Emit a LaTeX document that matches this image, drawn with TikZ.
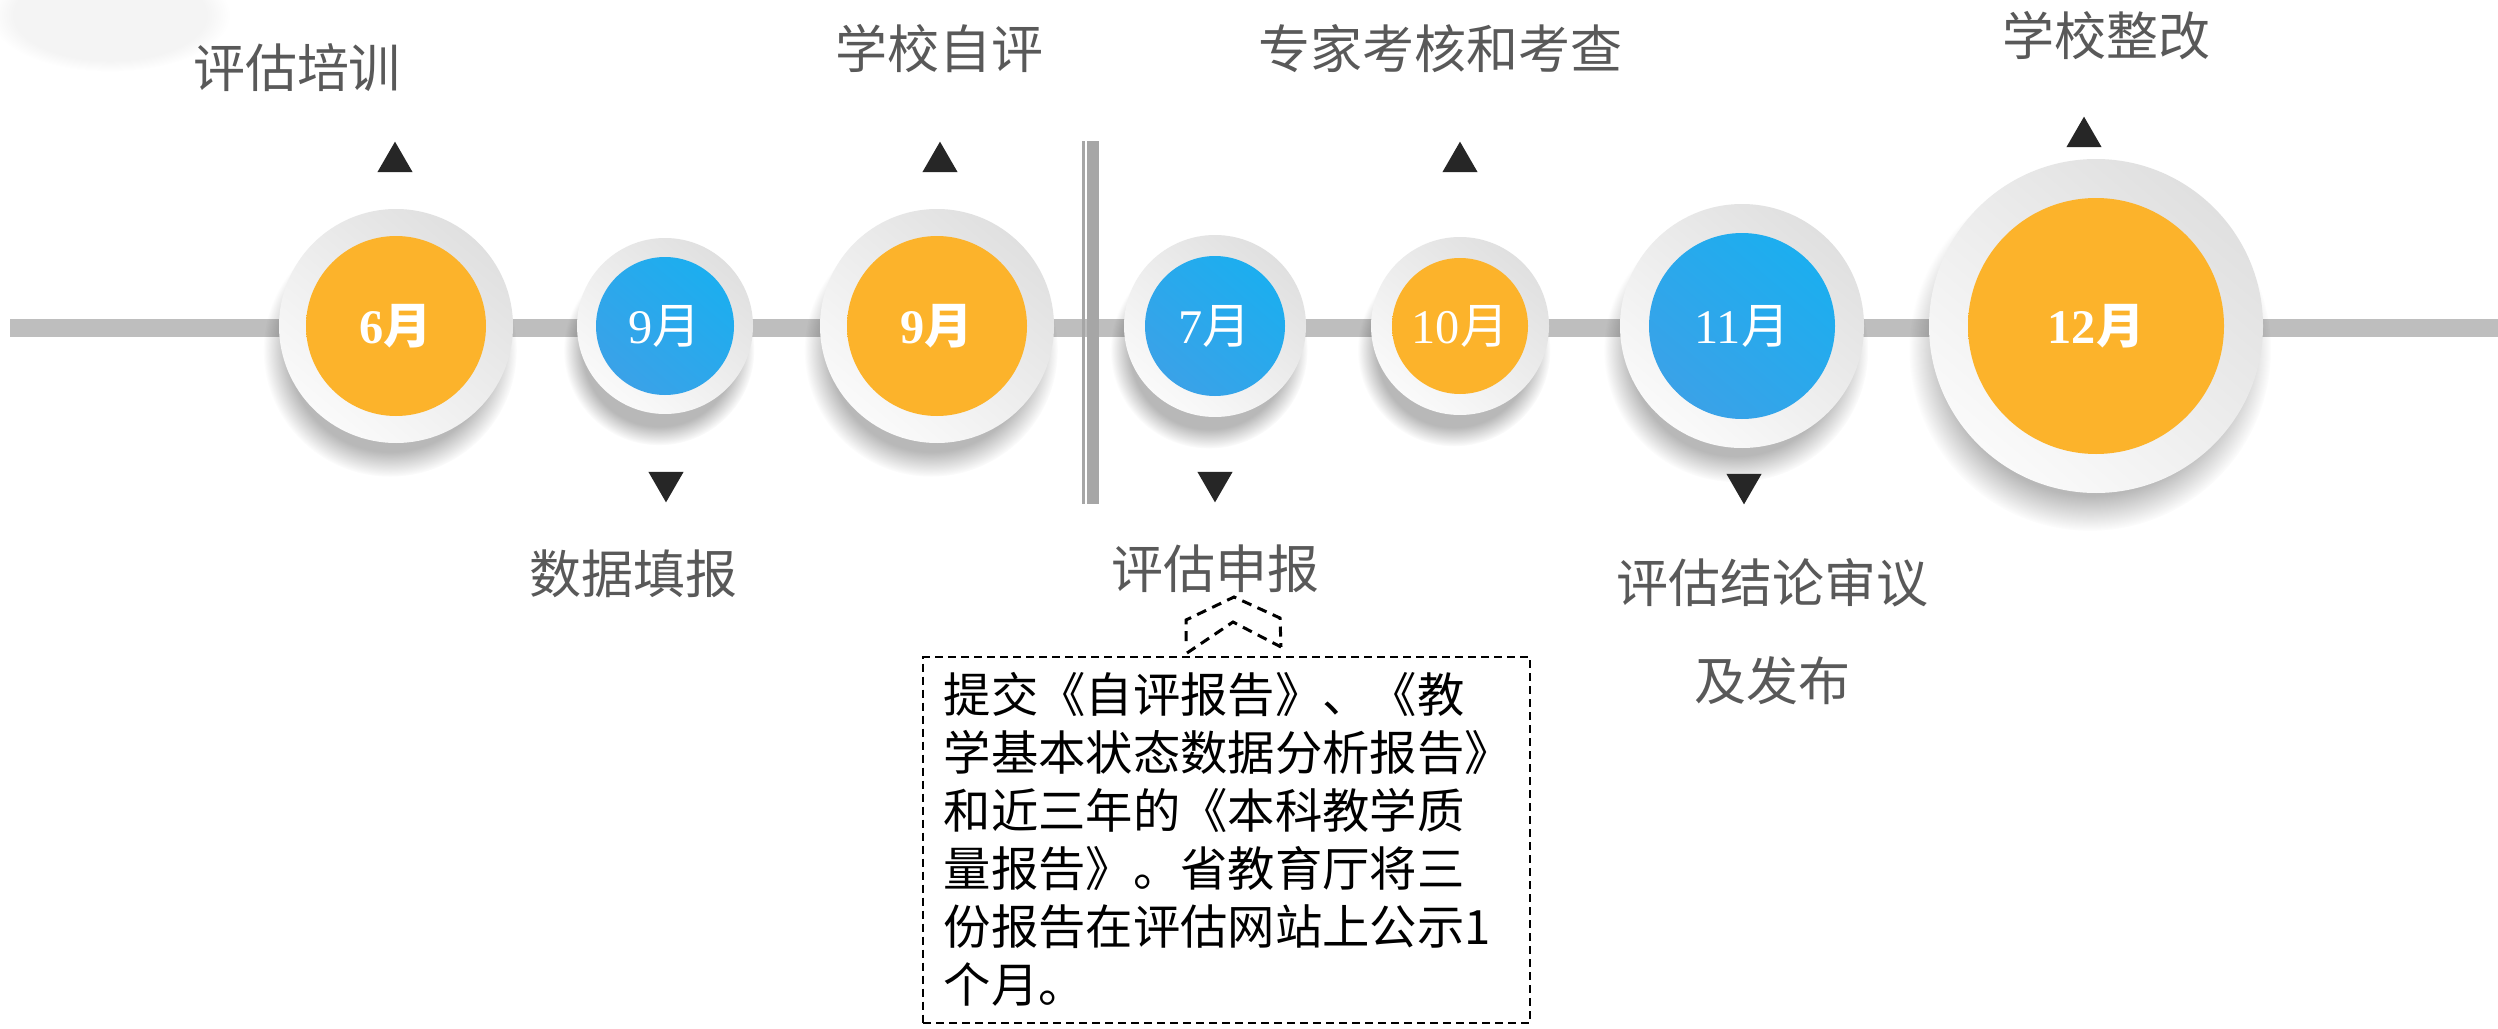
\documentclass[tikz,border=0pt]{standalone}
\usepackage{fontspec}
\setmainfont{Liberation Serif}
\newfontfamily\cjk{Noto Sans CJK SC}
\usetikzlibrary{shapes.geometric,fadings}

\definecolor{labgray}{HTML}{595959}
\definecolor{trigray}{HTML}{262626}
\definecolor{bargray}{HTML}{BEBEBE}
\definecolor{vlinegray}{HTML}{A6A6A6}
\definecolor{orA}{HTML}{FCB32B}
\definecolor{orB}{HTML}{D08B19}
\definecolor{blA}{HTML}{1CAEEF}
\definecolor{blB}{HTML}{3AA2E8}
\definecolor{ringA}{HTML}{E0E0E0}
\definecolor{ringB}{HTML}{FAFAFA}

\pgfdeclareradialshading{orangeball}{\pgfpoint{0bp}{0bp}}{color(0bp)=(orA); color(34bp)=(orA); color(50bp)=(orB); color(72bp)=(orB)}

\newcommand\monfont{\fontsize{14.5pt}{16pt}\selectfont}
\newcommand\mth[1]{#1{\cjk 月}}

\tikzset{
  ringst/.style={circle, inner sep=0pt, top color=ringA, bottom color=ringB, shading angle=-40, minimum size=#1},
  orst/.style={circle, inner sep=0pt, shading=orangeball, minimum size=#1, text=white, font=\monfont},
  blst/.style={circle, inner sep=0pt, top color=blA, bottom color=blB, shading angle=-40, minimum size=#1, text=white, font=\monfont},
  lab/.style={inner sep=0pt, text=labgray, font=\cjk\fontsize{15.6pt}{18pt}\selectfont},
  triup/.style={regular polygon, regular polygon sides=3, fill=trigray, inner sep=0pt, minimum size=12.2pt},
  tridown/.style={triup, shape border rotate=180},
  shadowst/.style={fill=black, opacity=0.28, path fading=circle with fuzzy edge 20 percent},
}

\begin{document}
\begin{tikzpicture}[x=0.3pt,y=-0.3pt]
\useasboundingbox (0,0) rectangle (2498,1029);
\fill[white] (0,0) rectangle (2498,1029);

% faint blur in the top-left corner
\fill[black, opacity=0.045, path fading=circle with fuzzy edge 20 percent] (110,15) ellipse [x radius=36pt, y radius=17pt];

% timeline bar
\fill[bargray] (10,319) rectangle (2498,337);

% vertical double line
\draw[vlinegray, line width=1pt] (1083.7,141) -- (1083.7,504);
\draw[vlinegray, line width=3.5pt] (1093.2,141) -- (1093.2,504);

% shadows
\foreach \cx/\rr in {396/117, 665/88, 937/117, 1215/91, 1460/89, 1742/122, 2096/167}
  \fill[shadowst] (\cx-6,350) circle [radius=\rr*0.325pt];

% rings
\node[ringst=70.2pt]  (r1) at (396,326)  {};
\node[ringst=52.8pt]  (r2) at (665,326)  {};
\node[ringst=70.2pt]  (r3) at (937,326)  {};
\node[ringst=54.6pt]  (r4) at (1215,326) {};
\node[ringst=53.4pt]  (r5) at (1460,326) {};
\node[ringst=73.2pt]  (r6) at (1742,326) {};
\node[ringst=100.2pt] (r7) at (2096,326) {};

% discs with months
\node[orst=54pt]   (c1) at (396,326)  {\bfseries\mth{6}};
\node[blst=41.4pt] (c2) at (665,326)  {\mth{9}};
\node[orst=54pt]   (c3) at (937,326)  {\bfseries\mth{9}};
\node[blst=42pt]   (c4) at (1215,326) {\mth{7}};
\node[orst=40.8pt] (c5) at (1460,326) {\mth{10}};
\node[blst=55.8pt] (c6) at (1742,326) {\mth{11}};
\node[orst=76.8pt] (c7) at (2096,326) {\bfseries\mth{12}};

% triangles
\node[triup]   (t1) at (395,162)  {};
\node[tridown] (t2) at (666,482)  {};
\node[triup]   (t3) at (940,162)  {};
\node[tridown] (t4) at (1215,482) {};
\node[triup]   (t5) at (1460,162) {};
\node[tridown] (t6) at (1744,484) {};
\node[triup]   (t7) at (2084,137) {};

% labels
\node[lab] (l1) at (297,68)   {评估培训};
\node[lab] (l2) at (633,574)  {数据填报};
\node[lab] (l3) at (939,49)   {学校自评};
\node[lab] (l4) at (1215,569) {评估申报};
\node[lab] (l5) at (1440,49)  {专家考核和考查};
\node[lab] (l6) at (1772,583) {评估结论审议};
\node[lab] (l6b) at (1772,681) {及发布};
\node[lab] (l7) at (2106,36)  {学校整改};

% dashed note box
\node[draw=black, dash pattern=on 2.4pt off 1.5pt, line width=0.6pt, minimum width=182pt, minimum height=109.8pt, inner sep=0pt] (box) at (1226.5,840) {};
\node[anchor=north west, inner sep=0pt, align=left, font=\cjk\fontsize{14.2pt}{17.4pt}\selectfont] (note) at (943,672)
{提交《自评报告》、《教\\学基本状态数据分析报告》\\和近三年的《本科教学质\\量报告》。省教育厅将三\\份报告在评估网站上公示1\\个月。};

% dashed double chevron pointer
\coordinate (pk1) at (1234,597);
\coordinate (pk2) at (1233,622);
\draw[dash pattern=on 3pt off 2pt, line width=0.9pt] (1186,641) -- (1186,620) -- (pk1) -- (1280,618) -- (1281,647);
\draw[dash pattern=on 3pt off 2pt, line width=0.9pt] (1187,653) -- (pk2) -- (1281,647);
\end{tikzpicture}
\end{document}
